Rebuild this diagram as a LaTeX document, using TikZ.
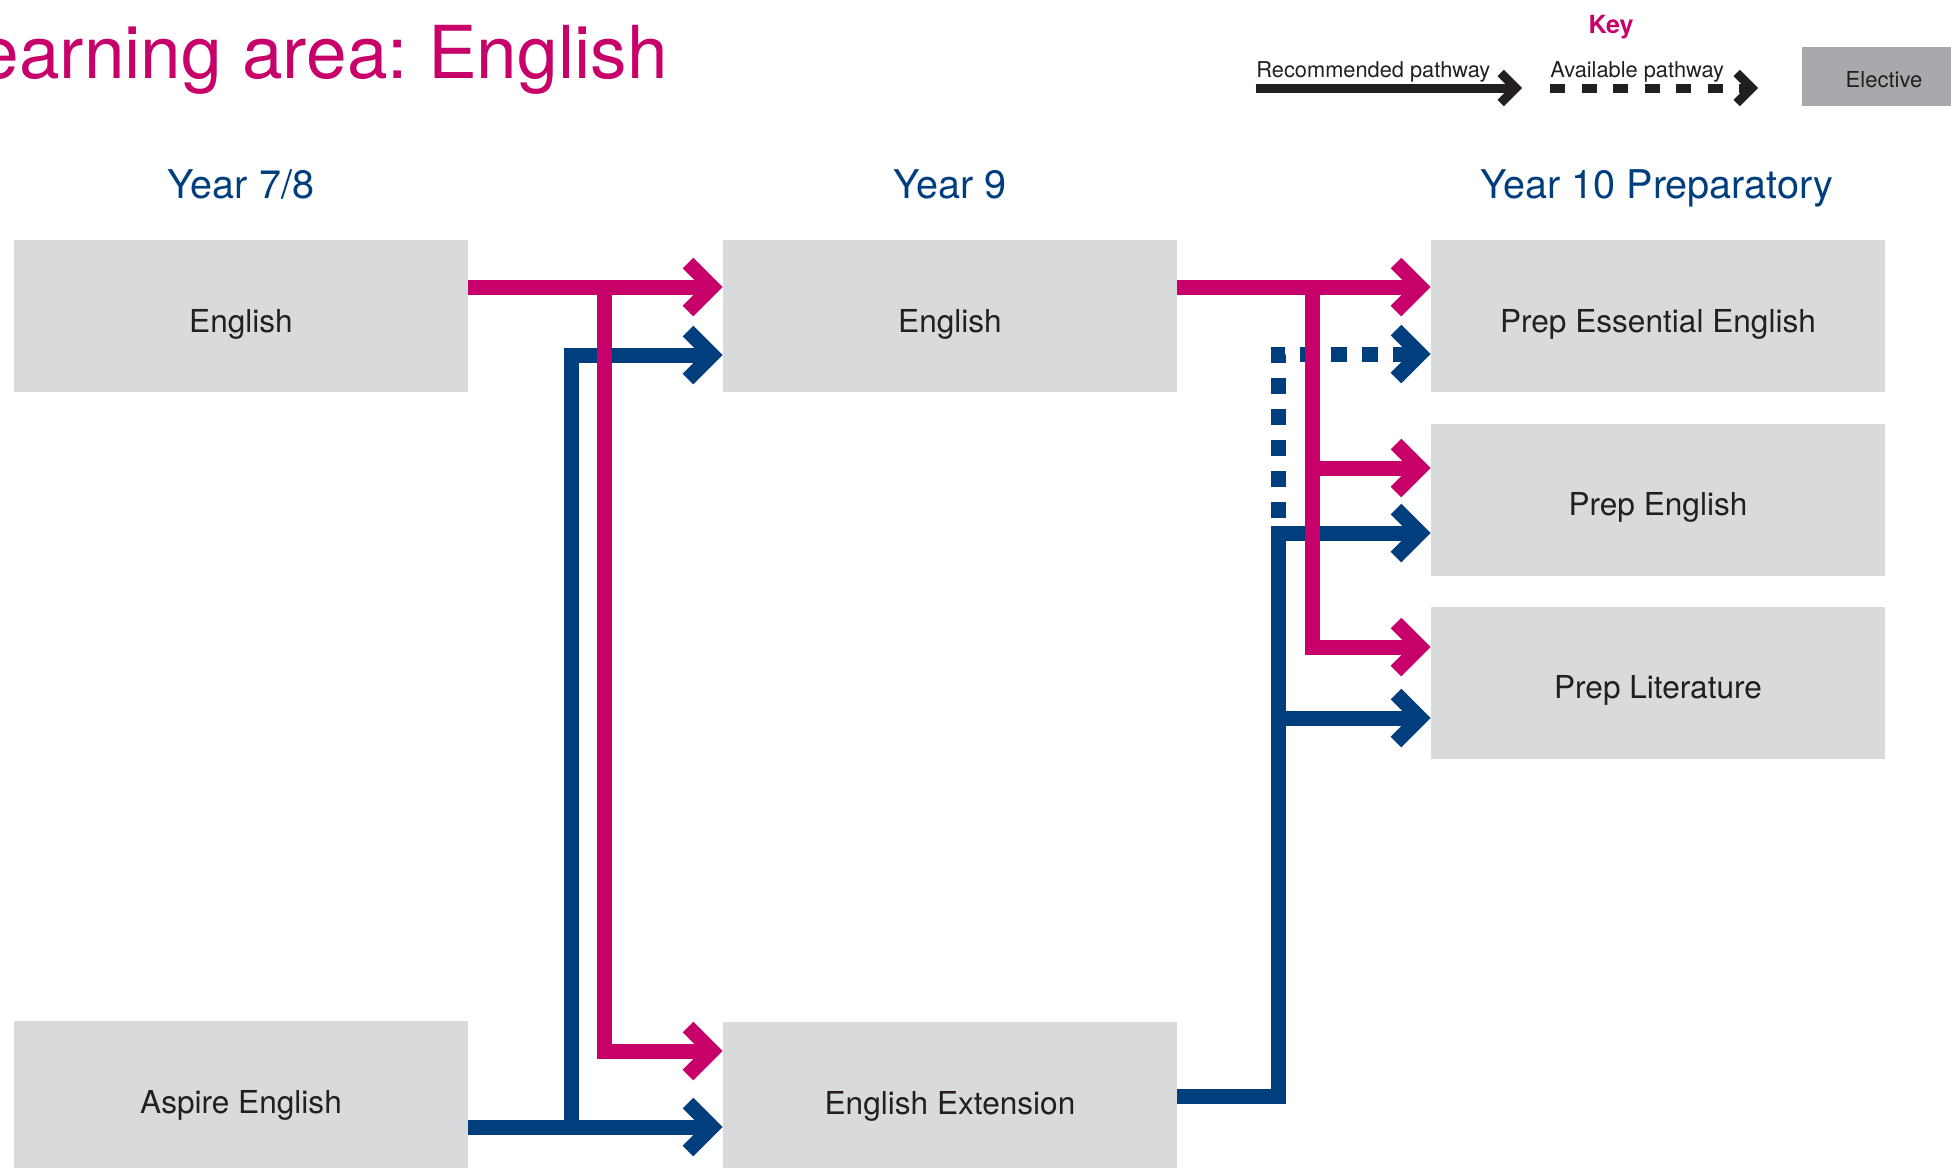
\documentclass[tikz,border=0pt]{standalone}
\usepackage{fontspec}
\setmainfont{TeX Gyre Heros}
\usetikzlibrary{arrows.meta}
\definecolor{engpink}{HTML}{C8006A}
\definecolor{engblue}{HTML}{003E7E}
\definecolor{boxgrey}{HTML}{D9DADB}
\definecolor{elgrey}{HTML}{A7A9AC}
\definecolor{ink}{HTML}{231F20}
\frenchspacing
\begin{document}
\begin{tikzpicture}[x=0.5pt,y=-0.5pt,
    course/.style={fill=boxgrey, minimum width=227pt, minimum height=76pt, inner sep=0pt,
        text=ink, text height=16pt, text depth=0pt, font=\fontsize{15.8}{18}\selectfont},
    yearhead/.style={text=engblue, anchor=base, inner sep=0pt, font=\fontsize{19.8}{23}\selectfont},
    keytext/.style={text=ink, anchor=base west, inner sep=0pt, font=\fontsize{10.9}{12}\selectfont},
    recpath/.style={line width=7.5pt, -{Straight Barb[length=12pt,width=24pt,line join=miter,line cap=butt]}},
    availpath/.style={recpath, dash pattern=on 8pt off 7.5pt, dash phase=8pt},
    keyrec/.style={ink, line width=4.5pt, -{Straight Barb[length=7.5pt,width=15pt,line join=miter,line cap=butt]}},
    keyavail/.style={keyrec, dash pattern=on 7.5pt off 8.25pt}
]
\useasboundingbox (0,0) rectangle (1951,1168);

% title and key
\node[text=engpink, anchor=base east, inner sep=0pt, font=\fontsize{36.5}{40}\selectfont] (title) at (668,78) {earning area: English};
\node[text=engpink, anchor=base, inner sep=0pt, font=\bfseries\fontsize{12.5}{14}\selectfont] (key) at (1611,33) {Key};
\node[keytext] (reclabel) at (1256,77) {Recommended pathway};
\node[keytext] (availlabel) at (1550,77) {Available pathway};
\node[fill=elgrey, minimum width=82pt, minimum height=29.5pt, inner sep=0pt, text=ink,
    text height=10.5pt, text depth=0pt, font=\fontsize{11}{13}\selectfont] (elective) at (1884,76.5) {Elective};
\coordinate (krecA) at (1256,88);
\coordinate (krecB) at (1522,88);
\coordinate (kavailA) at (1550,88);
\coordinate (kavailB) at (1758,88);
\draw[keyrec] (krecA) -- (krecB);
\draw[keyavail] (kavailA) -- (kavailB);

% year headings
\node[yearhead] (head78) at (241,198) {Year 7/8};
\node[yearhead] (head9) at (950,198) {Year 9};
\node[yearhead] (head10) at (1657,198) {Year 10 Preparatory};

% courses
\node[course] (eng78) at (241,316) {English};
\node[course] (aspire78) at (241,1097) {Aspire English};
\node[course] (eng9) at (950,316) {English};
\node[course] (ext9) at (950,1098) {English Extension};
\node[course] (prepess) at (1658,316) {Prep Essential English};
\node[course] (prepeng) at (1658,499.5) {Prep English};
\node[course] (preplit) at (1658,682.5) {Prep Literature};

% junctions
\coordinate (bA) at (571,355);
\coordinate (bB) at (571,1127);
\coordinate (bC) at (1278,1096);
\coordinate (bD) at (1278,533);
\coordinate (bE) at (1278,718);
\coordinate (bF) at (1278,354);
\coordinate (pA) at (604,287);
\coordinate (pB) at (604,1051);
\coordinate (pC) at (1312,287);
\coordinate (pD) at (1312,468);
\coordinate (pE) at (1312,647);

% blue pathways
\draw[engblue, recpath] (aspire78.east |- bB) -- (ext9.west |- bB);
\draw[engblue, recpath] (bB) -- (bA) -- (eng9.west |- bA);
\draw[engblue, availpath] (bD) -- (bF) -- (prepess.west |- bF);
\draw[engblue, recpath] (ext9.east |- bC) -- (bC) -- (bD) -- (prepeng.west |- bD);
\draw[engblue, recpath] (bE) -- (preplit.west |- bE);

% pink pathways
\draw[engpink, recpath] (eng78.east |- pA) -- (eng9.west |- pA);
\draw[engpink, recpath] (pA) -- (pB) -- (ext9.west |- pB);
\draw[engpink, recpath] (eng9.east |- pC) -- (prepess.west |- pC);
\draw[engpink, recpath] (pC) -- (pE) -- (preplit.west |- pE);
\draw[engpink, recpath] (pD) -- (prepeng.west |- pD);
\end{tikzpicture}
\end{document}
